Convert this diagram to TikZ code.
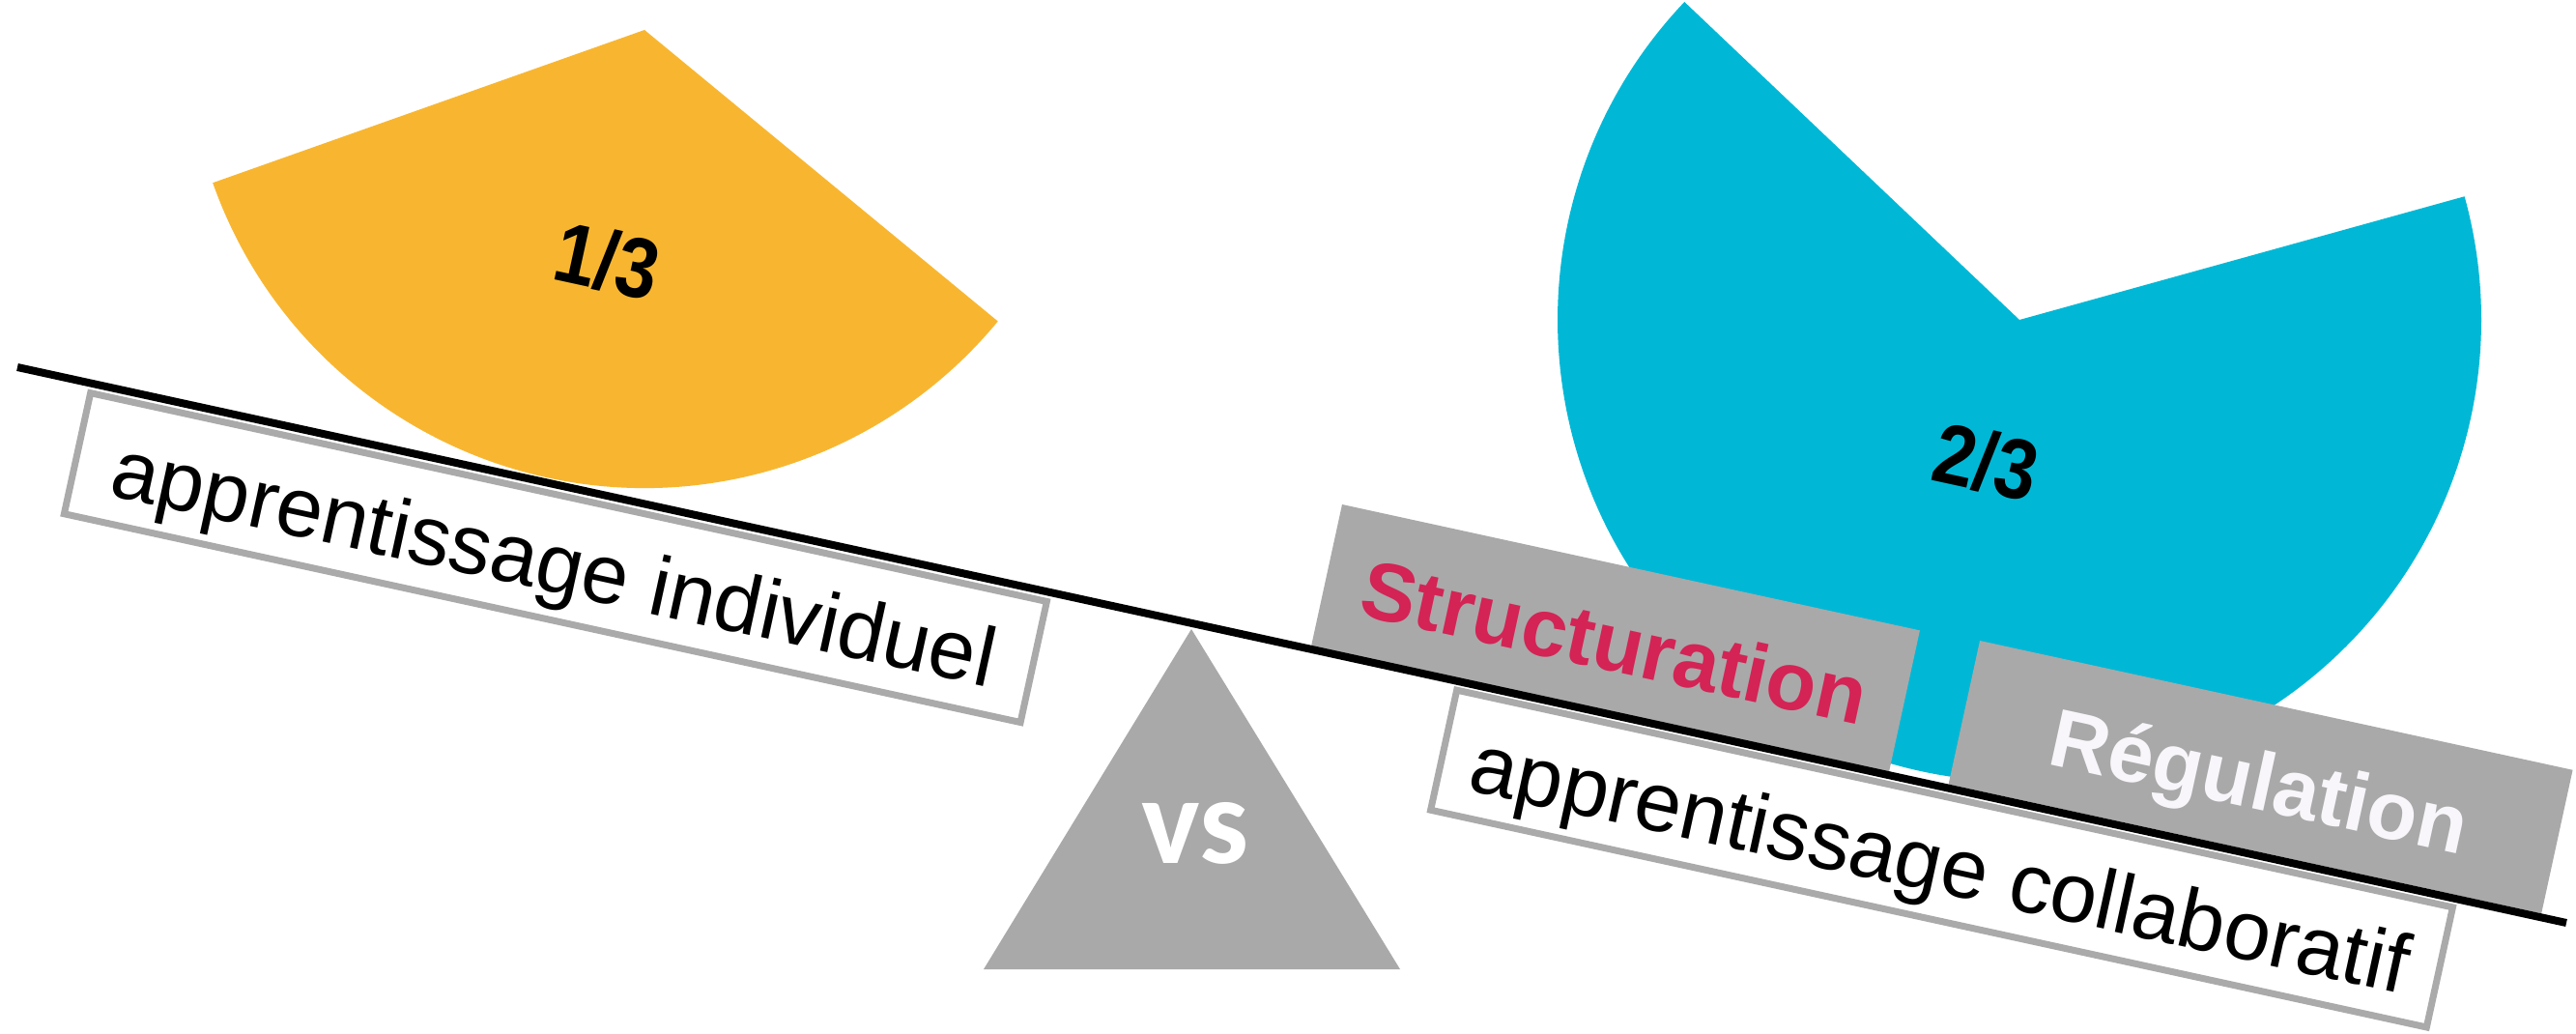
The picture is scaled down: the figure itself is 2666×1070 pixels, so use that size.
\documentclass[tikz,border=0pt]{standalone}
\usepackage{fontspec}
\setmainfont{Liberation Sans}
\newfontfamily\condfont[FakeStretch=0.88]{Liberation Sans}
\newfontfamily\vsfont{Carlito}
\definecolor{pieyellow}{RGB}{248,182,48}
\definecolor{pieblue}{RGB}{0,184,214}
\definecolor{boxgrey}{RGB}{169,169,169}
\definecolor{bordergrey}{RGB}{170,170,170}
\definecolor{labelred}{RGB}{212,35,85}
\definecolor{offwhite}{RGB}{248,246,250}
\tikzset{
  fraction/.style={font=\condfont\bfseries\fontsize{88}{90}\selectfont, rotate=-12.3, inner sep=0pt},
  greybox/.style={fill=boxgrey, rotate=-12.3, anchor=north west, inner sep=0pt, outer sep=0pt,
    font=\bfseries\fontsize{85}{88}\selectfont, text height=68pt, text depth=0pt},
  whitebox/.style={draw=bordergrey, fill=white, line width=7pt, outer sep=3.5pt, rotate=-12.3,
    anchor=north west, inner sep=0pt, font=\fontsize{87}{90}\selectfont, text height=89.6pt, text depth=18.3pt},
  beamline/.style={line width=8pt, draw=black},
}
\begin{document}
\begin{tikzpicture}[x=1pt,y=1pt]
\fill[white] (0,0) rectangle (2666,-1070);
\useasboundingbox (0,0) rectangle (2666,-1070);
% pies
\coordinate (yc) at (667,-31);
\coordinate (bc) at (2090,-331);
\fill[pieyellow] (yc) -- ++(199.5:474) arc[start angle=199.5, end angle=320.5, radius=474] -- cycle;
\fill[pieblue] (bc) -- ++(136.5:478) arc[start angle=136.5, end angle=375.5, radius=478] -- cycle;
\node[fraction] (t13) at (629,-270) {1/3};
\node[fraction] (t23) at (2056,-478) {2/3};
% grey label boxes
\node[greybox, minimum width=612pt, minimum height=150pt, text=labelred] (struct) at (1389,-522) {Structuration};
\node[greybox, minimum width=628pt, minimum height=152pt, text=offwhite] (regul) at (2049,-663) {Régulation};
% white boxes
\node[whitebox, minimum width=1013pt, minimum height=128pt] (indiv) at (91,-402.5) {apprentissage individuel};
\node[whitebox, minimum width=1055pt, minimum height=127pt] (collab) at (1505,-710) {apprentissage collaboratif};
% fulcrum
\coordinate (apex) at (1233,-651);
\coordinate (baseR) at (1449,-1003);
\coordinate (baseL) at (1018,-1003);
\fill[boxgrey] (apex) -- (baseR) -- (baseL) -- cycle;
\node[font=\vsfont\bfseries\fontsize{128}{130}\selectfont, text=white, inner sep=0pt] (vs) at (1237,-862) {vs};
% beam
\coordinate (bL) at (18,-380);
\coordinate (bR) at (2656,-955);
\draw[beamline] (bL) -- (bR);
\end{tikzpicture}
\end{document}
